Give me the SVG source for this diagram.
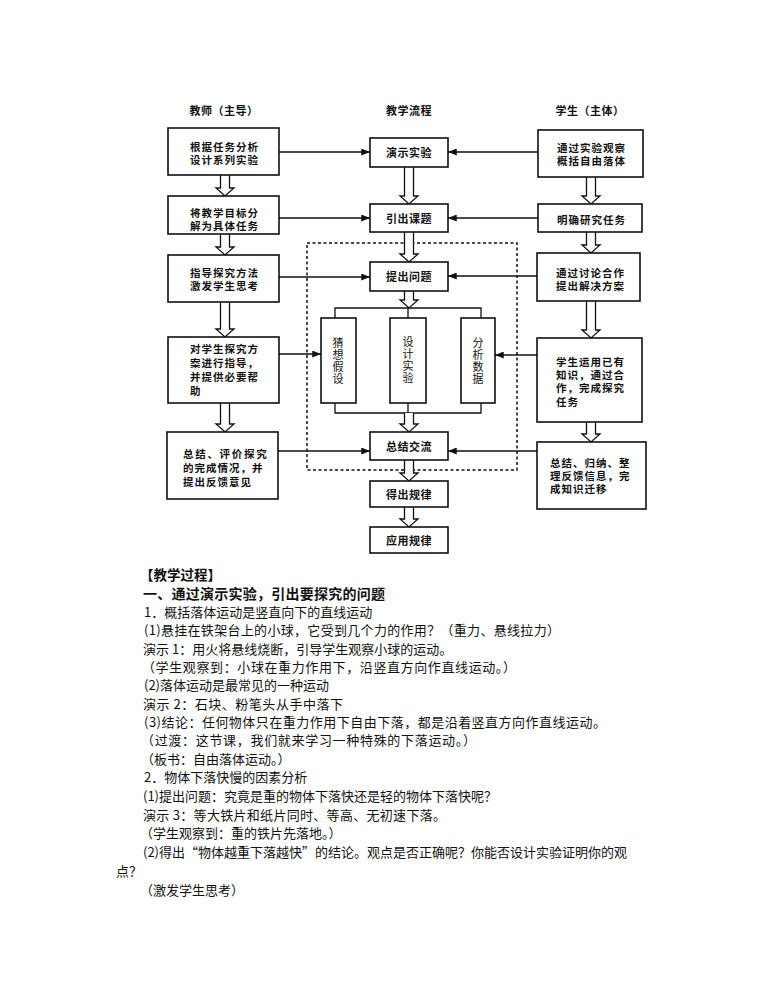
<svg xmlns="http://www.w3.org/2000/svg" width="770" height="1000" viewBox="0 0 770 1000">
<defs>
<style>
.bx{fill:#fff;stroke:#111;stroke-width:1.6}
.t{font-family:"Noto Sans CJK SC","Noto Sans",sans-serif;font-size:10.5px;letter-spacing:1px;font-weight:bold;fill:#111}
.tc{font-family:"Noto Sans CJK SC","Noto Sans",sans-serif;font-size:11px;letter-spacing:0.5px;font-weight:bold;fill:#111;text-anchor:middle}
.tv{font-family:"Noto Sans CJK SC","Noto Sans",sans-serif;font-size:11px;letter-spacing:1px;font-weight:normal;fill:#111;writing-mode:vertical-rl;text-orientation:upright}
.ln{fill:none;stroke:#111;stroke-width:1.3}
.ba{fill:#fff;stroke:#111;stroke-width:1.3;stroke-linejoin:miter}
.body{font-family:"Noto Sans CJK SC","Noto Sans",sans-serif;font-size:13px;fill:#111}
.bold{font-family:"Noto Sans CJK SC","Noto Sans",sans-serif;font-weight:bold;fill:#111}
</style>
<marker id="ah" viewBox="0 0 10 8" refX="10" refY="4" markerWidth="10" markerHeight="7" markerUnits="userSpaceOnUse" orient="auto"><path d="M0,0 L10,4 L0,8 z" fill="#111"/></marker>
</defs>
<rect width="770" height="1000" fill="#fff"/>

<g id="headers">
<text class="tc" x="224" y="114.5">教师（主导）</text>
<text class="tc" x="409" y="114.5">教学流程</text>
<text class="tc" x="590" y="114.5">学生（主体）</text>
</g>

<rect x="307" y="243" width="210" height="227" fill="none" stroke="#111" stroke-width="1.5" stroke-dasharray="3,2.5"/>

<g id="connectors">
<line class="ln" x1="279" y1="152" x2="370" y2="152" marker-end="url(#ah)"/>
<line class="ln" x1="279" y1="218" x2="370" y2="218" marker-end="url(#ah)"/>
<line class="ln" x1="279" y1="277" x2="370" y2="277" marker-end="url(#ah)"/>
<line class="ln" x1="279" y1="354" x2="321" y2="354" marker-end="url(#ah)"/>
<line class="ln" x1="278" y1="451" x2="370" y2="451" marker-end="url(#ah)"/>
<line class="ln" x1="538" y1="152" x2="448" y2="152" marker-end="url(#ah)"/>
<line class="ln" x1="538" y1="218" x2="448" y2="218" marker-end="url(#ah)"/>
<line class="ln" x1="537" y1="276" x2="448" y2="276" marker-end="url(#ah)"/>
<line class="ln" x1="537" y1="355" x2="495" y2="355" marker-end="url(#ah)"/>
<line class="ln" x1="537" y1="451" x2="448" y2="451" marker-end="url(#ah)"/>
<path class="ln" d="M335,318 V308 H481 V318 M408,308 V318"/>
<path class="ln" d="M335,403 V413 H481 V403 M408,403 V413"/>
<path class="ba" d="M220.5,175 V188 H216 L225,196 L234,188 H229.5 V175"/>
<path class="ba" d="M220.5,234 V247 H216 L225,255 L234,247 H229.5 V234"/>
<path class="ba" d="M220.5,302 V329 H216 L225,337 L234,329 H229.5 V302"/>
<path class="ba" d="M220.5,403 V424 H216 L225,432 L234,424 H229.5 V403"/>
<path class="ba" d="M404.5,167 V196 H400 L409,204 L418,196 H413.5 V167"/>
<path class="ba" d="M404.5,232 V254 H400 L409,262 L418,254 H413.5 V232"/>
<path class="ba" d="M404.5,291 V300 H400 L409,308 L418,300 H413.5 V291"/>
<path class="ba" d="M404.5,413 V424 H400 L409,432 L418,424 H413.5 V413"/>
<path class="ba" d="M404.5,460 V473 H400 L409,481 L418,473 H413.5 V460"/>
<path class="ba" d="M404.5,507 V519 H400 L409,527 L418,519 H413.5 V507"/>
<path class="ba" d="M586.5,177 V196 H582 L591,204 L600,196 H595.5 V177"/>
<path class="ba" d="M586.5,232 V245 H582 L591,253 L600,245 H595.5 V232"/>
<path class="ba" d="M586.5,301 V330 H582 L591,338 L600,330 H595.5 V301"/>
<path class="ba" d="M586.5,422 V434 H582 L591,442 L600,434 H595.5 V422"/>
</g>

<g id="L1"><rect class="bx" x="168" y="128" width="111" height="47"/>
<text class="t" x="190" y="151">根据任务分析<tspan x="190" dy="13">设计系列实验</tspan></text></g>
<g id="L2"><rect class="bx" x="168" y="196" width="111" height="38"/>
<text class="t" x="190" y="217">将教学目标分<tspan x="190" dy="13">解为具体任务</tspan></text></g>
<g id="L3"><rect class="bx" x="168" y="255" width="111" height="47"/>
<text class="t" x="190" y="277">指导探究方法<tspan x="190" dy="13">激发学生思考</tspan></text></g>
<g id="L4"><rect class="bx" x="168" y="337" width="111" height="66"/>
<text class="t" x="190" y="352.5">对学生探究方<tspan x="190" dy="14">案进行指导，</tspan><tspan x="190" dy="14">并提供必要帮</tspan><tspan x="190" dy="14">助</tspan></text></g>
<g id="L5"><rect class="bx" x="167" y="432" width="111" height="67"/>
<text class="t" x="183" y="457.5"><tspan letter-spacing="1.7">总结、评价探究</tspan><tspan x="183" dy="14">的完成情况，并</tspan><tspan x="183" dy="14">提出反馈意见</tspan></text></g>

<g id="C1"><rect class="bx" x="370" y="138" width="78" height="29"/><text class="tc" x="409" y="157">演示实验</text></g>
<g id="C2"><rect class="bx" x="370" y="204" width="78" height="28"/><text class="tc" x="409" y="222.5">引出课题</text></g>
<g id="C3"><rect class="bx" x="370" y="262" width="78" height="29"/><text class="tc" x="409" y="281">提出问题</text></g>
<g id="S1"><rect class="bx" x="321" y="318" width="35" height="85"/>
<text class="tv" x="338" y="337.5">猜想假设</text></g>
<g id="S2"><rect class="bx" x="390" y="318" width="36" height="85"/>
<text class="tv" x="408" y="336">设计实验</text></g>
<g id="S3"><rect class="bx" x="461" y="318" width="34" height="85"/>
<text class="tv" x="478" y="337.5">分析数据</text></g>
<g id="C4"><rect class="bx" x="370" y="432" width="78" height="28"/><text class="tc" x="409" y="450.5">总结交流</text></g>
<g id="C5"><rect class="bx" x="370" y="481" width="78" height="26"/><text class="tc" x="409" y="498.5">得出规律</text></g>
<g id="C6"><rect class="bx" x="370" y="527" width="78" height="26"/><text class="tc" x="409" y="544.5">应用规律</text></g>

<g id="R1"><rect class="bx" x="538" y="130" width="105" height="47"/>
<text class="t" x="557" y="152">通过实验观察<tspan x="557" dy="13">概括自由落体</tspan></text></g>
<g id="R2"><rect class="bx" x="538" y="204" width="104" height="28"/>
<text class="t" x="557" y="223.5">明确研究任务</text></g>
<g id="R3"><rect class="bx" x="537" y="253" width="103" height="48"/>
<text class="t" x="556" y="276.5">通过讨论合作<tspan x="556" dy="13">提出解决方案</tspan></text></g>
<g id="R4"><rect class="bx" x="537" y="338" width="105" height="84"/>
<text class="t" x="556" y="366">学生运用已有<tspan x="556" dy="13">知识，通过合</tspan><tspan x="556" dy="13">作，完成探究</tspan><tspan x="556" dy="13.5">任务</tspan></text></g>
<g id="R5"><rect class="bx" x="537" y="442" width="109" height="67"/>
<text class="t" x="550" y="467">总结、归纳、整<tspan x="550" dy="13">理反馈信息，完</tspan><tspan x="550" dy="13">成知识迁移</tspan></text></g>

<g id="body">
<text class="bold" font-size="13.5" x="140" y="580">【教学过程】</text>
<text class="bold" font-size="14" x="143" y="598.5" textLength="242" lengthAdjust="spacing">一、通过演示实验，引出要探究的问题</text>
<text class="body" x="144" y="616.5">1．概括落体运动是竖直向下的直线运动</text>
<text class="body" x="144" y="635" textLength="416" lengthAdjust="spacing">(1)悬挂在铁架台上的小球，它受到几个力的作用？（重力、悬线拉力）</text>
<text class="body" x="143" y="653.5">演示 1：用火将悬线烧断，引导学生观察小球的运动。</text>
<text class="body" x="142" y="671.5" textLength="374" lengthAdjust="spacing">（学生观察到：小球在重力作用下，沿竖直方向作直线运动。）</text>
<text class="body" x="144" y="690">(2)落体运动是最常见的一种运动</text>
<text class="body" x="143" y="708.5" textLength="200" lengthAdjust="spacing">演示 2：石块、粉笔头从手中落下</text>
<text class="body" x="144" y="727" textLength="462" lengthAdjust="spacing">(3)结论：任何物体只在重力作用下自由下落，都是沿着竖直方向作直线运动。</text>
<text class="body" x="141" y="745" textLength="335" lengthAdjust="spacing">（过渡：这节课，我们就来学习一种特殊的下落运动。）</text>
<text class="body" x="141" y="763.5">（板书：自由落体运动。）</text>
<text class="body" x="144" y="782">2．物体下落快慢的因素分析</text>
<text class="body" x="143" y="801">(1)提出问题：究竟是重的物体下落快还是轻的物体下落快呢？</text>
<text class="body" x="143" y="819.5" textLength="303" lengthAdjust="spacing">演示 3：等大铁片和纸片同时、等高、无初速下落。</text>
<text class="body" x="140" y="838">（学生观察到：重的铁片先落地。）</text>
<text class="body" x="143" y="856.5">(2)得出“物体越重下落越快”的结论。观点是否正确呢？你能否设计实验证明你的观</text>
<text class="body" x="116" y="875.5">点？</text>
<text class="body" x="140" y="894.5">（激发学生思考）</text>
</g>
</svg>
